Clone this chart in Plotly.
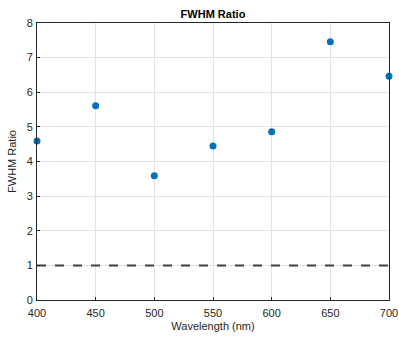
import plotly.graph_objects as go

wavelength = [400, 450, 500, 550, 600, 650, 700]
fwhm_ratio = [4.59, 5.61, 3.59, 4.45, 4.86, 7.46, 6.46]
ref_x = [400, 700]
ref_y = [1, 1]

fig = go.Figure()
fig.add_trace(go.Scatter(x=ref_x, y=ref_y, mode="lines",
                         line=dict(color="#404040", width=2, dash="dash"),
                         showlegend=False, cliponaxis=False))
fig.add_trace(go.Scatter(x=wavelength, y=fwhm_ratio, mode="markers",
                         marker=dict(color="#0072BD", size=7),
                         showlegend=False, cliponaxis=False))

axis_common = dict(showline=True, linecolor="#262626", linewidth=1, mirror=True,
                   ticks="inside", ticklen=3, tickcolor="#262626",
                   showgrid=True, gridcolor="#e3e3e3", gridwidth=1,
                   zeroline=False, automargin=False,
                   tickfont=dict(size=11, color="#262626"))

fig.update_layout(
    width=399, height=337,
    margin=dict(l=37, r=10, t=23, b=37),
    paper_bgcolor="white", plot_bgcolor="white",
    font=dict(family="Liberation Sans, Arial, sans-serif", color="#262626"),
    title=dict(text="<b>FWHM Ratio</b>", x=0.5, xref="paper", xanchor="center",
               y=1, yref="paper", yanchor="bottom", pad=dict(b=5),
               font=dict(size=11, color="#000000")),
    xaxis=dict(range=[400, 700], tickvals=[400, 450, 500, 550, 600, 650, 700],
               ticklabelstandoff=3,
               title=dict(text="Wavelength (nm)", font=dict(size=11), standoff=4),
               **axis_common),
    yaxis=dict(range=[0, 8], tickvals=list(range(0, 9)),
               ticklabelstandoff=1,
               title=dict(text="FWHM Ratio", font=dict(size=11), standoff=7),
               **axis_common),
)

fig.write_html("out.html")
